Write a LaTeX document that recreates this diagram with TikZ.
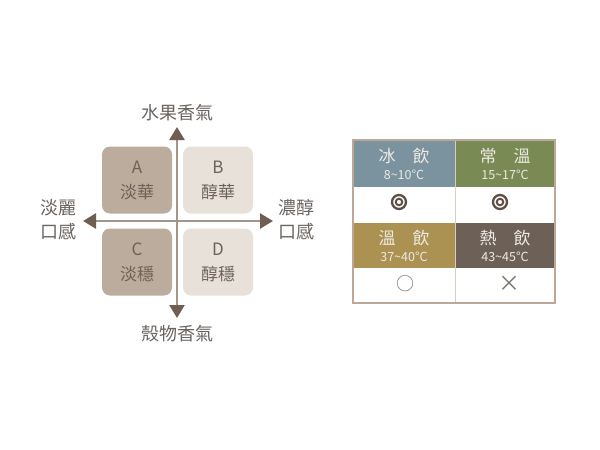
\documentclass[tikz,border=0pt]{standalone}
\usepackage{fontspec}
\setmainfont{Noto Sans CJK TC}
\usetikzlibrary{arrows.meta}

\definecolor{darkquad}{HTML}{BCAC9E}
\definecolor{lightquad}{HTML}{E8E1D9}
\definecolor{axisline}{HTML}{A39589}
\definecolor{axishead}{HTML}{6F5F53}
\definecolor{labeltext}{HTML}{6A6460}
\definecolor{quadtext}{HTML}{6E6258}
\definecolor{tableborder}{HTML}{BCA898}
\definecolor{divider}{HTML}{D9CCC0}
\definecolor{cold}{HTML}{7B929F}
\definecolor{room}{HTML}{798A55}
\definecolor{warm}{HTML}{AB9152}
\definecolor{hot}{HTML}{6D6157}
\definecolor{headtext}{HTML}{EEEAE3}
\definecolor{marktext}{HTML}{5E4E44}
\definecolor{softmark}{HTML}{7A7570}

\begin{document}
\begin{tikzpicture}[x=1pt,y=-1pt,
  quad/.style={rounded corners=8pt, minimum width=70pt, minimum height=67pt,
    inner sep=0pt, text=quadtext, align=center,
    font=\fontsize{17}{25}\selectfont},
  axislabel/.style={text=labeltext, inner sep=0pt, align=center,
    font=\fontsize{18}{24}\selectfont},
  axis/.style={draw=axisline, line width=2.5pt,
    arrows={Triangle[length=13pt,width=15pt,color=axishead]-Triangle[length=13pt,width=15pt,color=axishead]}},
  cell/.style={anchor=north west, inner sep=0pt, draw=none},
  headtitle/.style={text=headtext, inner sep=0pt, font=\fontsize{17}{17}\selectfont},
  headtemp/.style={text=headtext, inner sep=0pt, font=\fontsize{12.5}{12.5}\selectfont},
  symbolmark/.style={inner sep=0pt, font=\fontsize{18}{18}\selectfont},
  outerring/.style={circle, draw=marktext, line width=2.3pt, minimum size=14pt, inner sep=0pt},
  innerring/.style={circle, draw=marktext, line width=2pt, minimum size=6.5pt, inner sep=0pt}
]
\useasboundingbox (0,0) rectangle (600,450);

% ---- flavour quadrants ----
\node[quad, fill=darkquad]  (qa) at (137,180) {A\\淡華};
\node[quad, fill=lightquad] (qb) at (218,180) {B\\醇華};
\node[quad, fill=darkquad]  (qc) at (137,262) {C\\淡穩};
\node[quad, fill=lightquad] (qd) at (218,262) {D\\醇穩};

% ---- axes ----
\coordinate (ytop) at (177,127);
\coordinate (ybot) at (177,318);
\coordinate (xleft) at (83,221);
\coordinate (xright) at (273,221);
\draw[axis] (ybot) -- (ytop);
\draw[axis] (xleft) -- (xright);

\node[axislabel] (fruit) at (177,113) {水果香氣};
\node[axislabel] (grain) at (177,334) {殼物香氣};
\node[axislabel] (light) at (58,220) {淡麗\\口感};
\node[axislabel] (rich)  at (296,220) {濃醇\\口感};

% ---- serving temperature table ----
\node[cell, fill=cold, minimum width=102pt, minimum height=47pt] (cellcold) at (353,140) {};
\node[cell, fill=room, minimum width=100pt, minimum height=47pt] (cellroom) at (455,140) {};
\node[cell, fill=warm, minimum width=102pt, minimum height=45pt] (cellwarm) at (353,223) {};
\node[cell, fill=hot,  minimum width=100pt, minimum height=45pt] (cellhot)  at (455,223) {};

\draw[divider, line width=1pt] (455,140) -- (455,303);
\draw[tableborder, line width=2pt] (353,140) rectangle (555,303);

\node[headtitle] (tcold) at (404,156) {冰　飲};
\node[headtemp]  (dcold) at (404,175) {8\textasciitilde10°C};
\node[headtitle] (troom) at (505,156) {常　溫};
\node[headtemp]  (droom) at (505,175) {15\textasciitilde17°C};
\node[headtitle] (twarm) at (404,238) {溫　飲};
\node[headtemp]  (dwarm) at (404,257) {37\textasciitilde40°C};
\node[headtitle] (thot)  at (505,238) {熱　飲};
\node[headtemp]  (dhot)  at (505,257) {43\textasciitilde45°C};

% double rings for the recommended temperatures
\node[outerring] (mcold) at (399,202) {};
\node[innerring] at (mcold.center) {};
\node[outerring] (mroom) at (500,202) {};
\node[innerring] at (mroom.center) {};

\node[symbolmark, text=softmark] (mwarm) at (405,283.5) {○};
\node[symbolmark, text=softmark, font=\fontsize{22}{22}\selectfont] (mhot) at (509,283.5) {×};
\end{tikzpicture}
\end{document}
